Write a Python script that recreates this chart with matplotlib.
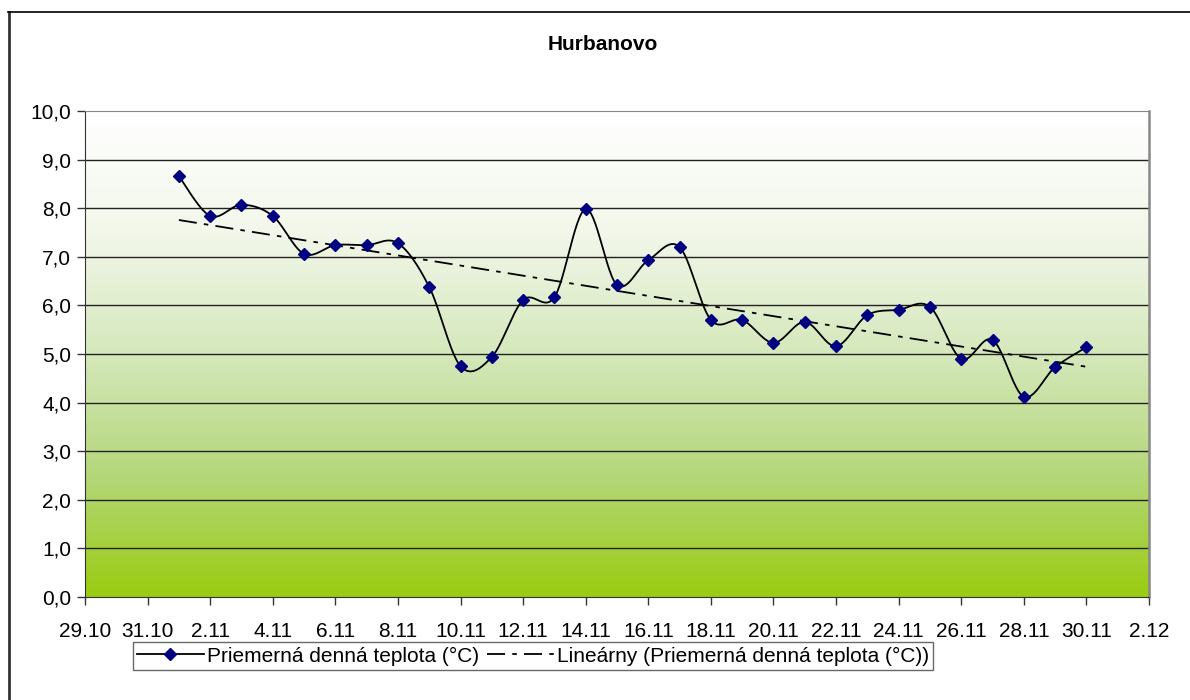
import numpy as np
import matplotlib
matplotlib.use("Agg")
import matplotlib.pyplot as plt
from matplotlib.lines import Line2D
from matplotlib.colors import LinearSegmentedColormap

plt.rcParams['font.family'] = ['Liberation Sans', 'DejaVu Sans']

# ---- data ----
tick_labels = ["29.10", "31.10", "2.11", "4.11", "6.11", "8.11", "10.11", "12.11",
               "14.11", "16.11", "18.11", "20.11", "22.11", "24.11", "26.11",
               "28.11", "30.11", "2.12"]
days = list(range(1, 31))  # 1.11 ... 30.11
temps = [8.66, 7.84, 8.07, 7.84, 7.06, 7.24, 7.24, 7.28, 6.38, 4.75,
         4.94, 6.11, 6.17, 7.98, 6.42, 6.93, 7.20, 5.70, 5.70, 5.23,
         5.66, 5.16, 5.80, 5.91, 5.97, 4.90, 5.29, 4.12, 4.73, 5.14]
series_label = "Priemerná denná teplota (°C)"
trend_label = "Lineárny (Priemerná denná teplota (°C))"
title = "Hurbanovo"

# x position: days since 29.10 (29.10 -> 0, 1.11 -> 3)
x = np.array(days, dtype=float) + 2
y = np.array(temps)

fig = plt.figure(figsize=(11.9, 7.0), dpi=100)
ax = fig.add_axes([85/1190, 1-597/700, (1149-85)/1190, (597-111)/700])

# gradient background: white at top, yellow-green at bottom
cmap = LinearSegmentedColormap.from_list("g", ["#ffffff", "#f2f7ea", "#d5e8bb", "#b4d77a", "#99cc11"])
grad = np.linspace(0, 1, 256).reshape(-1, 1)
ax.imshow(grad, extent=[0, 34, 0, 10], aspect='auto', cmap=cmap, zorder=0, origin='upper')

ax.set_xlim(0, 34)
ax.set_ylim(0, 10)
for v in range(1, 10):
    ax.axhline(v, color='#222222', lw=1.0, zorder=1)

# smoothed line (Catmull-Rom as cubic Bezier)
def smooth(px, py, n=30):
    P = np.column_stack([px, py])
    P = np.vstack([P[0], P, P[-1]])
    out = []
    for i in range(1, len(P) - 2):
        p0, p1, p2, p3 = P[i-1], P[i], P[i+1], P[i+2]
        c1 = p1 + (p2 - p0) / 6
        c2 = p2 - (p3 - p1) / 6
        t = np.linspace(0, 1, n)[:, None]
        seg = (1-t)**3*p1 + 3*(1-t)**2*t*c1 + 3*(1-t)*t**2*c2 + t**3*p2
        out.append(seg if i == 1 else seg[1:])
    return np.vstack(out)

S = smooth(x, y)
ax.plot(S[:, 0], S[:, 1], color='black', lw=1.3, zorder=3)
ax.plot(x, y, linestyle='none', marker='D', ms=5.8, color='#000080', zorder=4)

# linear trendline
k, b = np.polyfit(x, y, 1)
ax.plot([x[0], x[-1]], [k*x[0]+b, k*x[-1]+b], color='black', lw=1.3,
        dashes=(10, 4, 2.5, 4), zorder=2)

ax.set_xticks(np.arange(0, 35, 2))
ax.set_xticklabels(tick_labels)
ax.set_yticks(np.arange(0, 11, 1))
ax.set_yticklabels([f"{v:.1f}".replace('.', ',') for v in range(0, 11)])
ax.tick_params(axis='both', labelsize=15, length=6, width=1, color='#333333',
               direction='out')
ax.tick_params(axis='x', pad=12)
ax.tick_params(axis='y', pad=4)
ax.spines['left'].set_color('#333333')
ax.spines['bottom'].set_color('#333333')
ax.spines['top'].set_color('#888888')
ax.spines['right'].set_color('#888888')
ax.spines['right'].set_linewidth(1.8)
for s in ax.spines.values():
    s.set_zorder(5)

fig.text(603/1190, 1-45/700, title, ha='center', va='center', fontsize=15, fontweight='bold')

h1 = Line2D([], [], color='black', lw=1.3, marker='D', ms=5.8,
            markerfacecolor='#000080', markeredgecolor='#000080')
h2 = Line2D([], [], color='black', lw=1.3, dashes=(10, 4, 2.5, 4))
leg = fig.legend([h1, h2], [series_label, trend_label], ncol=2,
                 loc='center', bbox_to_anchor=(533/1190, 1-656/700),
                 fontsize=15, frameon=True, fancybox=False, edgecolor='#444444',
                 handlelength=3.2, handletextpad=0.15, columnspacing=0.4,
                 borderpad=0.2, borderaxespad=0)
leg.get_frame().set_linewidth(1.0)

# outer frame (left and top edges visible)
fig.add_artist(Line2D([8.5/1190, 8.5/1190], [0, 1-12/700], transform=fig.transFigure,
                      color='#333333', lw=2))
fig.add_artist(Line2D([8/1190, 1], [1-12/700, 1-12/700], transform=fig.transFigure,
                      color='black', lw=1.2))

fig.savefig("out.png", dpi=100)
